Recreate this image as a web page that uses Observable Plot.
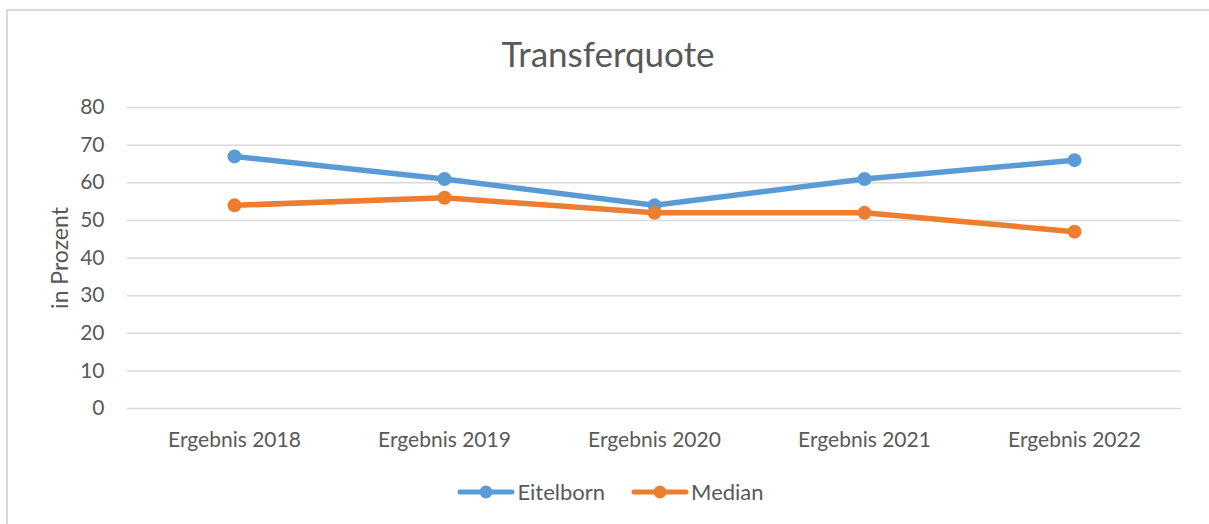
<!DOCTYPE html>
<html>
<head>
<meta charset="utf-8">
<script src="https://cdn.jsdelivr.net/npm/d3@7"></script>
<script src="https://cdn.jsdelivr.net/npm/@observablehq/plot@0.6"></script>
<style>
  html, body { margin: 0; padding: 0; background: #fff; overflow: hidden; }
  #wrap { position: relative; width: 1209px; height: 524px; overflow: hidden; font-family: Lato, "Open Sans", sans-serif; color: #595959; }
  #frame { position: absolute; left: 6px; top: 9px; width: 1300px; height: 700px; border-left: 2px solid #d9d9d9; border-top: 2px solid #d9d9d9; }
  #title { position: absolute; left: 0; width: 1216px; top: 32px; text-align: center; font-size: 35px; color: #595959; }
  #chart { position: absolute; left: 0; top: 0; }
  #legend { position: absolute; top: 478px; left: 6px; width: 1209px; display: flex; justify-content: center; gap: 0; font-size: 22px; color: #595959; }
  .item { display: flex; align-items: center; margin: 0 13px; }
  .item svg { margin-right: 2px; }
</style>
</head>
<body>
<div id="wrap">
  <div id="frame"></div>
  <div id="chart"></div>
  <div id="title">Transferquote</div>
  <div id="legend"></div>
</div>
<script>
const categories = ["Ergebnis 2018", "Ergebnis 2019", "Ergebnis 2020", "Ergebnis 2021", "Ergebnis 2022"];
const seriesNames = ["Eitelborn", "Median"];
const eitelborn = [67, 61, 54, 61, 66];
const median = [54, 56, 52, 52, 47];
const yTicks = [0, 10, 20, 30, 40, 50, 60, 70, 80];
const colors = ["#5b9bd5", "#ed7d31"];

const data = [];
[eitelborn, median].forEach((vals, si) => {
  vals.forEach((v, i) => data.push({ series: seriesNames[si], cat: categories[i], value: v }));
});

const plot = Plot.plot({
  width: 1209,
  height: 524,
  marginTop: 107,
  marginBottom: 116,
  marginLeft: 127,
  marginRight: 28,
  style: { fontFamily: "Lato, 'Open Sans', sans-serif", fontSize: "21px", color: "#595959", background: "transparent" },
  x: { type: "point", domain: categories, padding: 0.5 },
  y: { domain: [0, 80] },
  color: { domain: seriesNames, range: colors },
  marks: [
    Plot.gridY(yTicks, { stroke: "#d9d9d9", strokeOpacity: 1, strokeWidth: 1.5 }),
    Plot.axisY(yTicks, { tickSize: 0, tickPadding: 23, fontSize: 21, fill: "#595959", label: null }),
    Plot.axisX({ tickSize: 0, tickPadding: 24, fontSize: 21, fill: "#595959", label: null }),
    Plot.text(["in Prozent"], { frameAnchor: "left", dx: -67, rotate: -90, fontSize: 23, fill: "#595959", textAnchor: "middle" }),
    Plot.line(data, { x: "cat", y: "value", z: "series", stroke: "series", strokeWidth: 5.5, strokeLinecap: "round", strokeLinejoin: "round" }),
    Plot.dot(data, { x: "cat", y: "value", fill: "series", r: 7, stroke: "none" })
  ]
});
document.getElementById("chart").appendChild(plot);

const legend = document.getElementById("legend");
seriesNames.forEach((name, i) => {
  const item = document.createElement("div");
  item.className = "item";
  item.innerHTML = `<svg width="58" height="16"><line x1="3" y1="8" x2="55" y2="8" stroke="${colors[i]}" stroke-width="5" stroke-linecap="round"/><circle cx="29" cy="8" r="6.5" fill="${colors[i]}"/></svg><span>${name}</span>`;
  legend.appendChild(item);
});
</script>
</body>
</html>
